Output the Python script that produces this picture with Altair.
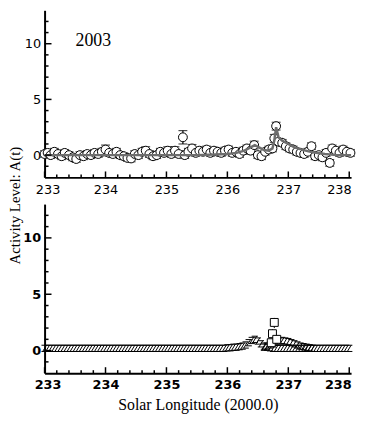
import altair as alt
import pandas as pd

# ---------------- data ----------------
top_x = [233.00, 233.05, 233.10, 233.16, 233.22, 233.28, 233.33, 233.40, 233.46, 233.52,
         233.58, 233.64, 233.70, 233.76, 233.82, 233.88, 233.94, 234.00, 234.06, 234.12,
         234.18, 234.24, 234.30, 234.36, 234.42, 234.48, 234.54, 234.60, 234.66, 234.72,
         234.78, 234.84, 234.90, 234.96, 235.02, 235.08, 235.14, 235.20, 235.27, 235.30,
         235.36, 235.42, 235.48, 235.54, 235.60, 235.66, 235.72, 235.78, 235.84, 235.90,
         235.96, 236.02, 236.08, 236.14, 236.20, 236.26, 236.32, 236.38, 236.44, 236.50,
         236.56, 236.62, 236.68, 236.74, 236.77, 236.80, 236.84, 236.90, 236.96, 237.02,
         237.08, 237.14, 237.20, 237.26, 237.32, 237.38, 237.44, 237.50, 237.56, 237.62,
         237.68, 237.72, 237.78, 237.84, 237.90, 237.96, 238.02]
top_y = [0.1, 0.2, 0.0, 0.3, 0.1, -0.1, 0.2, 0.0, -0.2, -0.35,
         0.0, -0.1, 0.1, 0.0, 0.2, 0.1, 0.3, 0.5, 0.2, 0.1,
         0.3, 0.0, -0.1, -0.25, -0.3, 0.1, 0.0, 0.3, 0.4, 0.1,
         -0.1, 0.0, 0.3, 0.2, 0.4, 0.1, 0.4, 0.1, 1.6, 0.0,
         0.3, 0.6, 0.2, 0.4, 0.3, 0.5, 0.2, 0.4, 0.3, 0.2,
         0.4, 0.5, 0.2, 0.3, 0.1, 0.4, 0.6, 0.4, 0.9, 0.0,
         -0.1, 0.3, 0.5, 0.6, 1.5, 2.6, 1.2, 1.1, 0.8, 0.6,
         0.5, 0.3, 0.2, 0.1, 0.3, 0.8, -0.1, 0.0, -0.2, 0.2,
         -0.7, 0.6, 0.4, 0.2, 0.5, 0.3, 0.2]
top_err = [0.3, 0.3, 0.3, 0.3, 0.3, 0.3, 0.3, 0.3, 0.3, 0.3,
           0.3, 0.3, 0.3, 0.3, 0.3, 0.3, 0.3, 0.4, 0.3, 0.3,
           0.3, 0.3, 0.3, 0.3, 0.3, 0.3, 0.3, 0.3, 0.35, 0.3,
           0.3, 0.3, 0.3, 0.3, 0.35, 0.3, 0.35, 0.3, 0.6, 0.3,
           0.3, 0.35, 0.3, 0.3, 0.3, 0.3, 0.3, 0.3, 0.3, 0.3,
           0.3, 0.3, 0.3, 0.3, 0.3, 0.3, 0.3, 0.3, 0.35, 0.3,
           0.3, 0.3, 0.3, 0.3, 0.35, 0.35, 0.3, 0.3, 0.3, 0.3,
           0.3, 0.3, 0.3, 0.3, 0.3, 0.3, 0.3, 0.3, 0.3, 0.3,
           0.3, 0.3, 0.3, 0.3, 0.3, 0.3, 0.3]

model_x = [233.00, 235.50, 235.80, 236.00, 236.15, 236.28, 236.38, 236.45, 236.52, 236.60,
           236.68, 236.74, 236.77, 236.80, 236.84, 236.90, 237.00, 237.10, 237.25, 237.40,
           237.60, 237.80, 238.03]
model_y = [0.0, 0.0, 0.05, 0.1, 0.2, 0.4, 0.7, 0.9, 0.7, 0.45,
           0.4, 0.6, 1.3, 2.5, 1.6, 1.3, 1.0, 0.7, 0.45, 0.25,
           0.1, 0.0, 0.0]

year_text = ["2003"]
year_x = [233.8]
year_y = [10.2]

bot_a_x = [233.00, 233.05, 233.10, 233.15, 233.20, 233.25, 233.30, 233.35, 233.40, 233.45,
           233.50, 233.55, 233.60, 233.65, 233.70, 233.75, 233.80, 233.85, 233.90, 233.95,
           234.00, 234.05, 234.10, 234.15, 234.20, 234.25, 234.30, 234.35, 234.40, 234.45,
           234.50, 234.55, 234.60, 234.65, 234.70, 234.75, 234.80, 234.85, 234.90, 234.95,
           235.00, 235.05, 235.10, 235.15, 235.20, 235.25, 235.30, 235.35, 235.40, 235.45,
           235.50, 235.55, 235.60, 235.65, 235.70, 235.75, 235.80, 235.85, 235.90, 235.95,
           236.00, 236.05, 236.10, 236.15, 236.20, 236.25, 236.30, 236.35, 236.40, 236.45,
           236.50, 236.55, 236.60, 236.65, 236.70, 236.75, 236.80, 236.85, 236.90, 236.95,
           237.00, 237.05, 237.10, 237.15, 237.20, 237.25, 237.30, 237.35, 237.40, 237.45,
           237.50, 237.55, 237.60, 237.65, 237.70, 237.75, 237.80, 237.85, 237.90, 237.95,
           238.00]
bot_a_y = [0.2, 0.2, 0.2, 0.2, 0.2, 0.2, 0.2, 0.2, 0.2, 0.2,
           0.2, 0.2, 0.2, 0.2, 0.2, 0.2, 0.2, 0.2, 0.2, 0.2,
           0.2, 0.2, 0.2, 0.2, 0.2, 0.2, 0.2, 0.2, 0.2, 0.2,
           0.2, 0.2, 0.2, 0.2, 0.2, 0.2, 0.2, 0.2, 0.2, 0.2,
           0.2, 0.2, 0.2, 0.2, 0.2, 0.2, 0.2, 0.2, 0.2, 0.2,
           0.2, 0.2, 0.2, 0.2, 0.2, 0.2, 0.2, 0.2, 0.2, 0.2,
           0.25, 0.25, 0.3, 0.3, 0.35, 0.4, 0.5, 0.7, 0.9, 1.0,
           0.85, 0.6, 0.4, 0.3, 0.25, 0.2, 0.2, 0.2, 0.2, 0.2,
           0.2, 0.2, 0.2, 0.2, 0.2, 0.2, 0.2, 0.2, 0.2, 0.2,
           0.2, 0.2, 0.2, 0.2, 0.2, 0.2, 0.2, 0.2, 0.2, 0.2,
           0.2]
bot_b_x = [236.60, 236.65, 236.70, 236.75, 236.80, 236.85, 236.90, 236.95, 237.00, 237.05,
           237.10, 237.15, 237.20, 237.25, 237.30, 237.35, 237.40]
bot_b_y = [0.3, 0.4, 0.5, 0.6, 0.75, 0.85, 0.9, 0.85, 0.8, 0.7,
           0.6, 0.5, 0.4, 0.35, 0.3, 0.25, 0.2]

sq_x = [236.72, 236.74, 236.77, 236.81]
sq_y = [0.7, 1.5, 2.5, 1.0]
sq_lo = [0.4, 1.1, 2.0, 0.6]
sq_hi = [1.0, 1.9, 2.9, 1.3]

x_major = [233, 234, 235, 236, 237, 238]
x_minor = [233.2, 233.4, 233.6, 233.8, 234.2, 234.4, 234.6, 234.8, 235.2, 235.4,
           235.6, 235.8, 236.2, 236.4, 236.6, 236.8, 237.2, 237.4, 237.6, 237.8]
y_major = [0, 5, 10]
y_minor = [-1, 1, 2, 3, 4, 6, 7, 8, 9, 11, 12]

# ---------------- layout ----------------
W = 310
H1 = 169
H2 = 171
XDOM = [233, 238.03]
YDOM = [-2, 13]
SERIF = "Liberation Serif"
SANS = "DejaVu Sans"
HATCH = "M -1 -1 L 1 -1 M -1 1 L 1 1 M -0.6 1 L 0.6 -1"

top_df = pd.DataFrame({"x": top_x, "y": top_y, "err": top_err})
top_df["lo"] = top_df["y"] - top_df["err"]
top_df["hi"] = top_df["y"] + top_df["err"]
model_df = pd.DataFrame({"x": model_x, "y": model_y})
year_df = pd.DataFrame({"x": year_x, "y": year_y, "t": year_text})
bot_a_df = pd.DataFrame({"x": bot_a_x, "y": bot_a_y})
bot_b_df = pd.DataFrame({"x": bot_b_x, "y": bot_b_y})
sq_df = pd.DataFrame({"x": sq_x, "y": sq_y, "lo": sq_lo, "hi": sq_hi})
xmaj_df = pd.DataFrame({"x": x_major})
xmin_df = pd.DataFrame({"x": x_minor})
ymaj_df = pd.DataFrame({"y": y_major})
ymin_df = pd.DataFrame({"y": y_minor})

YSCALE = alt.Scale(domain=YDOM, nice=False, zero=False)


def make_panel(layers, H, bold, xtitle, ytitle):
    weight = "bold" if bold else "normal"
    xaxis = alt.Axis(values=x_major, format="d", ticks=False, tickSize=0, grid=False,
                     labelFont=SANS, labelFontSize=13, labelFontWeight=weight,
                     labelColor="black", labelPadding=6, domainColor="black",
                     domainWidth=2, labelFlush=False,
                     labelAlign=alt.ExprRef("datum.value == 238 ? 'right' : 'center'"),
                     labelOffset=alt.ExprRef("datum.value == 233 ? 3 : (datum.value == 238 ? 2 : 0)"),
                     title=xtitle, titleFont=SERIF, titleFontSize=16,
                     titleFontWeight="normal", titleColor="black", titlePadding=5)
    yargs = dict(values=y_major, format="d", ticks=False, tickSize=0, grid=False,
                 labelFont=SANS, labelFontSize=13, labelFontWeight=weight,
                 labelColor="black", labelPadding=4, domainColor="black",
                 domainWidth=2, title=ytitle)
    if ytitle:
        yargs.update(titleFont=SERIF, titleFontSize=15, titleFontWeight="normal",
                     titleColor="black", titleX=-30, titleY=197,
                     titleAlign="center", titleBaseline="middle", titleAngle=270)
    yaxis = alt.Axis(**yargs)
    X = alt.X("x:Q", scale=alt.Scale(domain=XDOM, nice=False, zero=False), axis=xaxis)
    Y = alt.Y("y:Q", scale=YSCALE, axis=yaxis)

    tick_layers = [
        alt.Chart(xmaj_df).mark_rule(color="black", strokeWidth=1.5).encode(
            x=X, y=alt.value(H), y2=alt.value(H - 6)),
        alt.Chart(xmin_df).mark_rule(color="black", strokeWidth=1.5).encode(
            x=X, y=alt.value(H), y2=alt.value(H - 3)),
        alt.Chart(ymaj_df).mark_rule(color="black", strokeWidth=1.5).encode(
            y=Y, x=alt.value(0), x2=alt.value(7)),
        alt.Chart(ymin_df).mark_rule(color="black", strokeWidth=1.5).encode(
            y=Y, x=alt.value(0), x2=alt.value(4)),
    ]
    built = [f(X, Y) for f in layers]
    return alt.layer(*(built + tick_layers)).properties(width=W, height=H)


top_layers = [
    lambda X, Y: alt.Chart(top_df).mark_rule(color="black", strokeWidth=1.2).encode(
        x=X, y=alt.Y("lo:Q", scale=YSCALE), y2="hi:Q"),
    lambda X, Y: alt.Chart(top_df).mark_tick(color="black", orient="horizontal",
                                              size=9, thickness=1.2).encode(
        x=X, y=alt.Y("hi:Q", scale=YSCALE)),
    lambda X, Y: alt.Chart(top_df).mark_tick(color="black", orient="horizontal",
                                              size=9, thickness=1.2).encode(
        x=X, y=alt.Y("lo:Q", scale=YSCALE)),
    lambda X, Y: alt.Chart(top_df).mark_point(shape="circle", filled=True, fill="white",
                                               stroke="black", strokeWidth=1, opacity=1,
                                               size=80).encode(x=X, y=Y),
    lambda X, Y: alt.Chart(model_df).mark_line(color="#6e6e6e", strokeWidth=2.5).encode(
        x=X, y=Y),
    lambda X, Y: alt.Chart(year_df).mark_text(font=SERIF, fontSize=18, color="black",
                                              align="center", baseline="middle").encode(
        x=X, y=Y, text="t:N"),
]

bot_layers = [
    lambda X, Y: alt.Chart(bot_a_df).mark_point(shape=HATCH, filled=False, color="black",
                                                 strokeWidth=1, opacity=1,
                                                 size=40).encode(x=X, y=Y),
    lambda X, Y: alt.Chart(bot_b_df).mark_point(shape=HATCH, filled=False, color="black",
                                                 strokeWidth=1, opacity=1,
                                                 size=40).encode(x=X, y=Y),
    lambda X, Y: alt.Chart(sq_df).mark_rule(color="black", strokeWidth=1).encode(
        x=X, y=alt.Y("lo:Q", scale=YSCALE), y2="hi:Q"),
    lambda X, Y: alt.Chart(sq_df).mark_point(shape="square", filled=True, fill="white",
                                              stroke="black", strokeWidth=1, opacity=1,
                                              size=64).encode(x=X, y=Y),
]

top = make_panel(top_layers, H1, False, None, "Activity Level: A(t)")
bottom = make_panel(bot_layers, H2, True, "Solar Longitude (2000.0)", None)

chart = alt.vconcat(top, bottom, spacing=27, bounds="flush").properties(
    padding=0, background="white"
).configure_view(strokeWidth=0, stroke="transparent")

chart.save("out.html", embed_options={"renderer": "svg", "actions": False})
